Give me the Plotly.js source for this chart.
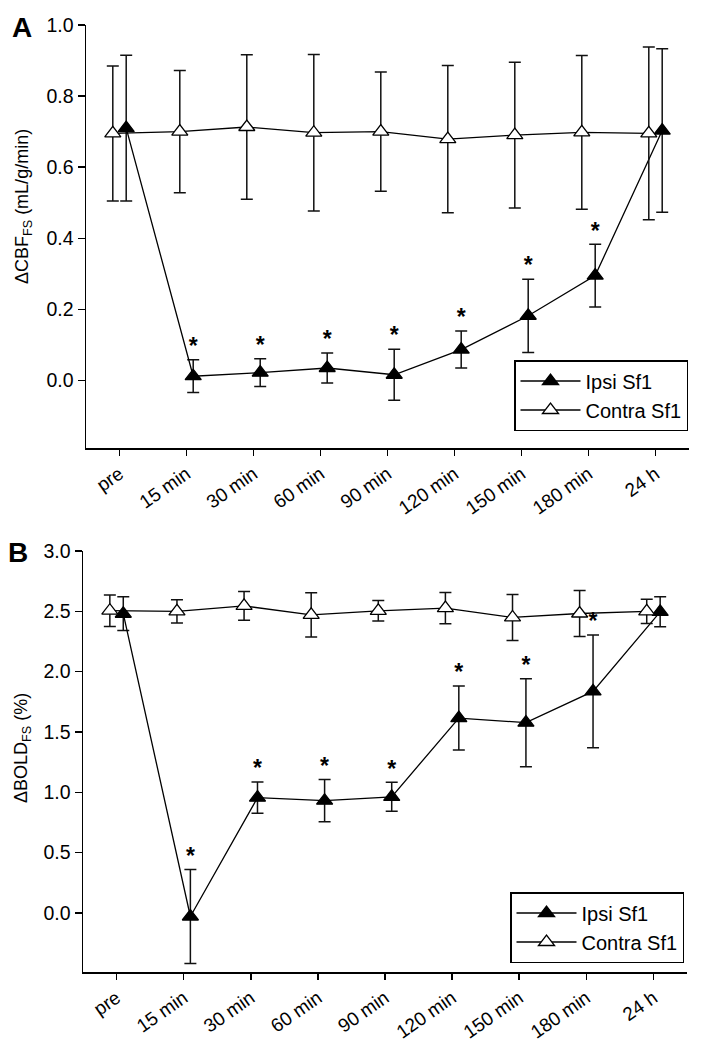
<!DOCTYPE html>
<html>
<head>
<meta charset="utf-8">
<script src="https://cdn.plot.ly/plotly-3.0.1.min.js"></script>
<style>
  html, body { margin: 0; padding: 0; background: #fff; }
  #chart { width: 703px; height: 1050px; }
</style>
</head>
<body>
<div id="chart"></div>
<script>
// ---- Data ----
const categories = ['pre', '15 min', '30 min', '60 min', '90 min', '120 min', '150 min', '180 min', '24 h'];

// Panel A: ΔCBF_FS (mL/g/min)
const ipsiCBF       = [0.710, 0.012, 0.022, 0.035, 0.016, 0.087, 0.182, 0.295, 0.703];
const ipsiCBFErr    = [0.205, 0.046, 0.039, 0.042, 0.072, 0.052, 0.103, 0.088, 0.230];
const contraCBF     = [0.695, 0.700, 0.713, 0.697, 0.700, 0.679, 0.690, 0.698, 0.695];
const contraCBFErr  = [0.190, 0.172, 0.203, 0.220, 0.168, 0.207, 0.205, 0.216, 0.243];

// Panel B: ΔBOLD_FS (%)
const ipsiBOLD      = [2.480, -0.030, 0.955, 0.930, 0.962, 1.615, 1.577, 1.836, 2.496];
const ipsiBOLDErr   = [0.140, 0.390, 0.130, 0.175, 0.120, 0.265, 0.365, 0.468, 0.124];
const contraBOLD    = [2.505, 2.500, 2.545, 2.470, 2.504, 2.526, 2.449, 2.482, 2.500];
const contraBOLDErr = [0.130, 0.096, 0.120, 0.183, 0.085, 0.130, 0.190, 0.190, 0.100];

// significance markers (*) on the ipsilateral series
const significant = [false, true, true, true, true, true, true, true, false];

const seriesNames = ['Ipsi Sf1', 'Contra Sf1'];

// ---- Styling ----
const FONT = 'Liberation Sans, Arial, Helvetica, sans-serif';
const IPSI_OFF = 0.1, CONTRA_OFF = -0.1;
const idx = categories.map((_, i) => i);

function errBar(arr) {
  return { type: 'data', array: arr, visible: true, color: '#111', thickness: 1.5, width: 6 };
}
function seriesTrace(name, y, err, off, filled, xa, ya, legend, showleg) {
  return {
    type: 'scatter', mode: 'lines+markers', name: name,
    x: idx.map(i => i + off), y: y,
    xaxis: xa, yaxis: ya, legend: legend, showlegend: showleg,
    error_y: errBar(err),
    line: { color: '#000', width: 1.3 },
    marker: { symbol: 'triangle-up', size: 14, color: filled ? '#000' : '#fff', line: { color: '#000', width: 1.3 } },
    hoverinfo: 'skip'
  };
}
function starTrace(y, err, xa, ya) {
  const xs = [], ys = [];
  idx.forEach(i => { if (significant[i]) { xs.push(i + IPSI_OFF); ys.push(y[i] + err[i]); } });
  return {
    type: 'scatter', mode: 'text', x: xs, y: ys, text: xs.map(() => '<b>*</b>'),
    textposition: 'top center', textfont: { family: FONT, size: 23, color: '#000' },
    xaxis: xa, yaxis: ya, showlegend: false, hoverinfo: 'skip', cliponaxis: false
  };
}

const traces = [
  seriesTrace(seriesNames[0], ipsiCBF, ipsiCBFErr, IPSI_OFF, true, 'x', 'y', 'legend', true),
  seriesTrace(seriesNames[1], contraCBF, contraCBFErr, CONTRA_OFF, false, 'x', 'y', 'legend', true),
  starTrace(ipsiCBF, ipsiCBFErr, 'x', 'y'),
  seriesTrace(seriesNames[0], ipsiBOLD, ipsiBOLDErr, IPSI_OFF, true, 'x2', 'y2', 'legend2', true),
  seriesTrace(seriesNames[1], contraBOLD, contraBOLDErr, CONTRA_OFF, false, 'x2', 'y2', 'legend2', true),
  starTrace(ipsiBOLD, ipsiBOLDErr, 'x2', 'y2')
];

const W = 703, H = 1050;
function xAxis(domain, anchor) {
  return {
    domain: domain, anchor: anchor, range: [-0.5, 8.5],
    tickmode: 'array', tickvals: idx, ticktext: categories, tickangle: -35,
    ticks: 'outside', ticklen: 6, tickwidth: 1.5, tickcolor: '#000',
    showline: true, linecolor: '#000', linewidth: 1.5, mirror: false,
    showgrid: false, zeroline: false, automargin: false,
    tickfont: { family: FONT, size: 19, color: '#000' }
  };
}
function yAxis(domain, anchor, range, dtick) {
  return {
    domain: domain, anchor: anchor, range: range, tick0: 0, dtick: dtick, tickformat: '.1f',
    ticks: 'outside', ticklen: 7, tickwidth: 1.5, tickcolor: '#000',
    showline: true, linecolor: '#000', linewidth: 1.5, mirror: false,
    showgrid: false, zeroline: false, automargin: false,
    tickfont: { family: FONT, size: 19.5, color: '#000' }
  };
}
function legendBox(xpx, ypx) {
  return {
    x: xpx / W, y: 1 - ypx / H, xanchor: 'left', yanchor: 'top', xref: 'paper', yref: 'paper',
    bordercolor: '#000', borderwidth: 1.5, bgcolor: '#fff',
    font: { family: FONT, size: 20, color: '#000' }, itemwidth: 60, tracegroupgap: 0
  };
}

const layout = {
  width: W, height: H,
  margin: { l: 0, r: 0, t: 0, b: 0, pad: 0 },
  paper_bgcolor: '#fff', plot_bgcolor: '#fff',
  font: { family: FONT, color: '#000' },
  xaxis: xAxis([86 / W, 689 / W], 'y'),
  yaxis: yAxis([1 - 448 / H, 1 - 25 / H], 'x', [-0.19, 1.0], 0.2),
  xaxis2: xAxis([83 / W, 687 / W], 'y2'),
  yaxis2: yAxis([1 - 972 / H, 1 - 551 / H], 'x2', [-0.49, 3.0], 0.5),
  legend: legendBox(514, 360),
  legend2: legendBox(510, 892),
  annotations: [
    { text: '<b>A</b>', x: 22 / W, y: 1 - 28 / H, xref: 'paper', yref: 'paper', showarrow: false,
      font: { family: FONT, size: 28, color: '#000' }, xanchor: 'center', yanchor: 'middle' },
    { text: '<b>B</b>', x: 18 / W, y: 1 - 552 / H, xref: 'paper', yref: 'paper', showarrow: false,
      font: { family: FONT, size: 28, color: '#000' }, xanchor: 'center', yanchor: 'middle' },
    { text: 'ΔCBF<sub>FS</sub> (mL/g/min)', x: 23 / W, y: 1 - 207 / H, xref: 'paper', yref: 'paper',
      showarrow: false, textangle: -90, font: { family: FONT, size: 18, color: '#000' },
      xanchor: 'center', yanchor: 'middle' },
    { text: 'ΔBOLD<sub>FS</sub> (%)', x: 22 / W, y: 1 - 748 / H, xref: 'paper', yref: 'paper',
      showarrow: false, textangle: -90, font: { family: FONT, size: 18, color: '#000' },
      xanchor: 'center', yanchor: 'middle' }
  ]
};

Plotly.newPlot('chart', traces, layout, { staticPlot: true, displayModeBar: false });
</script>
</body>
</html>
